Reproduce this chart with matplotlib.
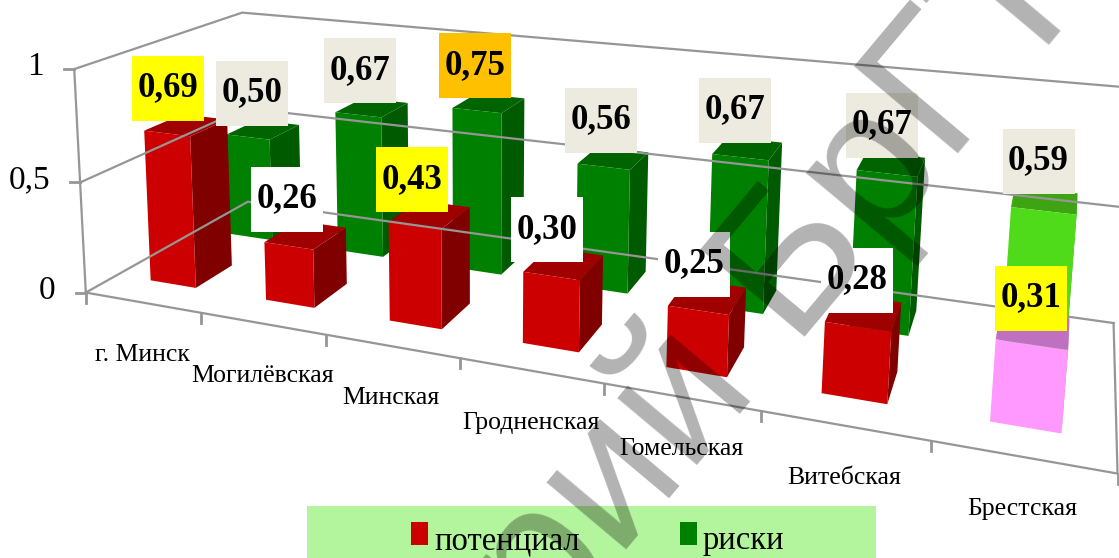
import numpy as np
import matplotlib
matplotlib.use("Agg")
import matplotlib.pyplot as plt
from matplotlib.patches import Polygon, Rectangle

regions = ["г. Минск", "Могилёвская", "Минская", "Гродненская", "Гомельская", "Витебская", "Брестская"]
potential = [0.69, 0.26, 0.43, 0.30, 0.25, 0.28, 0.31]
risks = [0.50, 0.67, 0.75, 0.56, 0.67, 0.67, 0.59]
value_ticks = [0, 0.5, 1]
value_tick_labels = ["0", "0,5", "1"]

WHITE, BEIGE, YELLOW, ORANGE = "#ffffff", "#edebe0", "#ffff00", "#ffc000"
potential_fill = [YELLOW, WHITE, YELLOW, WHITE, WHITE, WHITE, YELLOW]
risks_fill = [BEIGE, BEIGE, ORANGE, BEIGE, BEIGE, BEIGE, BEIGE]

RED = ("#cc0000", "#800000", "#a00000")
GREEN = ("#008000", "#005a00", "#006400")
PINK = ("#ff99ff", "#c070c0", "#c070c0")
LIME = ("#4fdb1a", "#3fa413", "#3fa413")
GRID = "#969696"

# the picture's perspective: box corners (category, depth, value) -> pixels
box_corners = [(0, 0, 0), (0, 0, 1), (0, 1, 0), (0, 1, 1), (7, 0, 0), (7, 0, 1), (7, 1, 0), (7, 1, 1)]
box_pixels = [(90, 292), (70, 64), (243, 204), (247, 15), (1119, 472), (1141, 192), (1114, 322), (1133, 83)]

# sideways nudges of the data labels, in pixels
potential_nudge = [7, 3, 0, -3, -4, -1, 0]
risks_nudge = [5, 3, 0, 0, -2, 0, 2]


def fit_camera(corners, pixels):
    rows, rhs = [], []
    for (x, y, z), (u, v) in zip(corners, pixels):
        rows.append([x, y, z, 1, 0, 0, 0, 0, -u * x, -u * y, -u * z])
        rows.append([0, 0, 0, 0, x, y, z, 1, -v * x, -v * y, -v * z])
        rhs += [u, v]
    m = np.linalg.lstsq(np.array(rows, float), np.array(rhs, float), rcond=None)[0]
    return np.append(m, 1).reshape(3, 4)


camera = fit_camera(box_corners, box_pixels)


def project(x, y, z):
    p = camera @ np.array([x, y, z, 1.0])
    return p[0] / p[2], p[1] / p[2]


def draw_bar(ax, i, row, value, colors):
    front, side, top = colors
    x0, x1 = i + 0.3, i + 0.7
    y0, y1 = row
    ax.add_patch(Polygon([project(x1, y0, 0), project(x1, y1, 0), project(x1, y1, value), project(x1, y0, value)], color=side, lw=0))
    ax.add_patch(Polygon([project(x0, y0, value), project(x1, y0, value), project(x1, y1, value), project(x0, y1, value)], color=top, lw=0))
    ax.add_patch(Polygon([project(x0, y0, 0), project(x1, y0, 0), project(x1, y0, value), project(x0, y0, value)], color=front, lw=0))


def draw_label(ax, cx, cy, value, fill):
    ax.add_patch(Rectangle((cx - 36, cy - 32), 72, 65, color=fill, lw=0, zorder=5))
    ax.text(cx, cy, f"{value:.2f}".replace(".", ","), ha="center", va="center", fontsize=25, fontweight="bold",
            family="Liberation Serif", zorder=6)


fig = plt.figure(figsize=(11.19, 5.58), dpi=100)
ax = fig.add_axes([0, 0, 1, 1])
ax.set_xlim(0, 1119)
ax.set_ylim(558, 0)
ax.axis("off")

# walls and floor
for v in value_ticks:
    ax.plot(*zip(project(0, 0, v), project(0, 1, v), project(7, 1, v)), color=GRID, lw=1.6)
    px, py = project(0, 0, v)
    ax.plot([px - 10, px], [py, py], color=GRID, lw=2)
ax.plot(*zip(project(0, 0, 0), project(0, 0, 1)), color=GRID, lw=1.6)
ax.plot(*zip(project(0, 0, 0), project(7, 0, 0), project(7, 1, 0)), color=GRID, lw=1.6)
for i in range(8):
    px, py = project(i, 0, 0)
    ax.plot([px, px], [py, py + 10], color=GRID, lw=2)

for v, lab in zip(value_ticks, value_tick_labels):
    px, py = project(0, 0, v)
    ax.text(px - 30, py - 2, lab, ha="right", va="center", fontsize=24, family="Liberation Serif")

for i, name in enumerate(regions):
    px, py = project(i + 0.5, 0, 0)
    ax.text(px, py + 52, name, ha="center", va="center", fontsize=18.5, family="Liberation Serif")

front_row = (0.17, 0.39)
back_row = (0.66, 0.87)
for i, v in enumerate(risks):
    draw_bar(ax, i, back_row, v, LIME if i == 6 else GREEN)
for i, v in enumerate(potential):
    draw_bar(ax, i, front_row, v, PINK if i == 6 else RED)

for i, v in enumerate(risks):
    cx, cy = project(i + 0.5, sum(back_row) / 2, v)
    draw_label(ax, cx - 16 + 1.3 * i + risks_nudge[i], cy - 37 - 0.4 * i, v, risks_fill[i])
for i, v in enumerate(potential):
    cx, cy = project(i + 0.5, sum(front_row) / 2, v)
    draw_label(ax, cx - 25 + 3.8 * i + potential_nudge[i], cy - 37 + 1.0 * i, v, potential_fill[i])

# legend strip
ax.add_patch(Rectangle((307, 506), 569, 52, color="#b3f59c", lw=0, zorder=7))
ax.add_patch(Rectangle((411, 522), 17, 23, color=RED[0], lw=0, zorder=8))
ax.add_patch(Rectangle((680, 522), 17, 23, color=GREEN[0], lw=0, zorder=8))
ax.text(434, 549, "потенциал", fontsize=23.5, family="Liberation Serif", va="baseline", zorder=8)
ax.text(703, 549, "риски", fontsize=23.5, family="Liberation Serif", va="baseline", zorder=8)

# watermark over everything
ax.text(5, 1291, "Репозиторий БрГТУ", rotation=50, rotation_mode="anchor", ha="left", va="baseline",
        fontsize=142, family="Liberation Sans", color="black", alpha=0.3, zorder=10)

fig.savefig("out.png", dpi=100)
